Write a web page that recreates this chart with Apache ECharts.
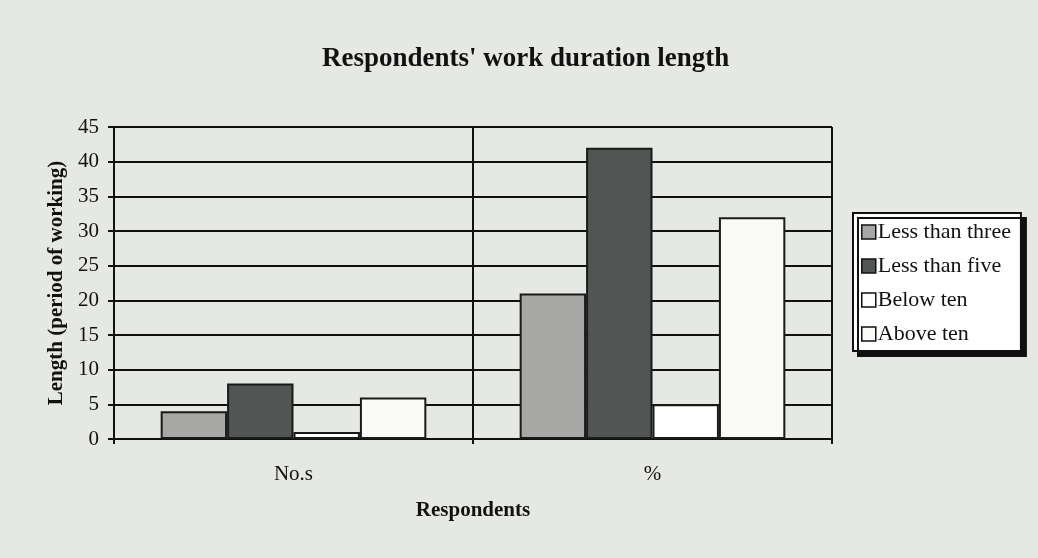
<!DOCTYPE html>
<html>
<head>
<meta charset="utf-8">
<script src="https://cdn.jsdelivr.net/npm/echarts@6/dist/echarts.min.js"></script>
<style>
html,body{margin:0;padding:0;background:#e6e8e4;}
#main{width:1038px;height:558px;}
</style>
</head>
<body>
<div id="main"></div>
<script>
var categories = ['No.s', '%'];
var seriesNames = ['Less than three', 'Less than five', 'Below ten', 'Above ten'];
var lessThanThree = [4, 21];
var lessThanFive = [8, 42];
var belowTen = [1, 5];
var aboveTen = [6, 32];
var yTicks = [0, 5, 10, 15, 20, 25, 30, 35, 40, 45];

var colors = ['#a7a8a6', '#515553', '#ffffff', '#fafaf6'];
var font = '"Liberation Serif", "Times New Roman", serif';

function bar(name, data, color){
    return {
        name: name,
        type: 'bar',
        data: data,
        barGap: '0%',
        barCategoryGap: '26%',
        itemStyle: {color: color, borderColor: '#1a1a1a', borderWidth: 2}
    };
}

var myChart = echarts.init(document.getElementById('main'));
myChart.setOption({
    backgroundColor: '#e6e8e4',
    animation: false,
    title: {
        text: "Respondents' work duration length",
        left: 317,
        top: 41,
        padding: 5,
        textStyle: {fontFamily: font, fontSize: 27, fontWeight: 'bold', color: '#111'}
    },
    legend: {
        orient: 'vertical',
        left: 853,
        top: 213,
        padding: [8, 10, 6, 8],
        itemGap: 12,
        itemWidth: 14,
        itemHeight: 14,
        icon: 'rect',
        backgroundColor: '#ffffff',
        borderColor: '#111',
        borderWidth: 2,
        borderRadius: 0,
        shadowColor: '#111',
        shadowBlur: 0,
        shadowOffsetX: 5,
        shadowOffsetY: 5,
        data: seriesNames,
        itemStyle: {borderColor: '#111', borderWidth: 1.5},
        textStyle: {fontFamily: font, fontSize: 22, color: '#111', lineHeight: 22, padding: [0, 0, 0, -3]}
    },
    grid: {left: 114, right: 206, top: 127, bottom: 119, containLabel: false},
    xAxis: {
        type: 'category',
        data: categories,
        name: 'Respondents',
        nameLocation: 'middle',
        nameGap: 61,
        nameTextStyle: {fontFamily: font, fontSize: 21, fontWeight: 'bold', color: '#111'},
        axisLine: {lineStyle: {color: '#111', width: 2}},
        axisTick: {show: true, length: 5, lineStyle: {color: '#111', width: 2}},
        axisLabel: {fontFamily: font, fontSize: 21, color: '#111', margin: 25},
        splitLine: {show: true, lineStyle: {color: '#111', width: 2}}
    },
    yAxis: {
        type: 'value',
        min: 0,
        max: 45,
        interval: 5,
        name: 'Length (period of working)',
        nameLocation: 'middle',
        nameGap: 45,
        nameTextStyle: {fontFamily: font, fontSize: 21, fontWeight: 'bold', color: '#111'},
        axisLine: {show: true, lineStyle: {color: '#111', width: 2}},
        axisTick: {show: true, length: 6, lineStyle: {color: '#111', width: 2}},
        axisLabel: {fontFamily: font, fontSize: 21, color: '#111', margin: 15,
            formatter: function(v){ return yTicks.indexOf(v) >= 0 ? String(v) : ''; }},
        splitLine: {show: true, lineStyle: {color: '#111', width: 2}}
    },
    series: [
        bar(seriesNames[0], lessThanThree, colors[0]),
        bar(seriesNames[1], lessThanFive, colors[1]),
        bar(seriesNames[2], belowTen, colors[2]),
        bar(seriesNames[3], aboveTen, colors[3])
    ]
});
</script>
</body>
</html>
